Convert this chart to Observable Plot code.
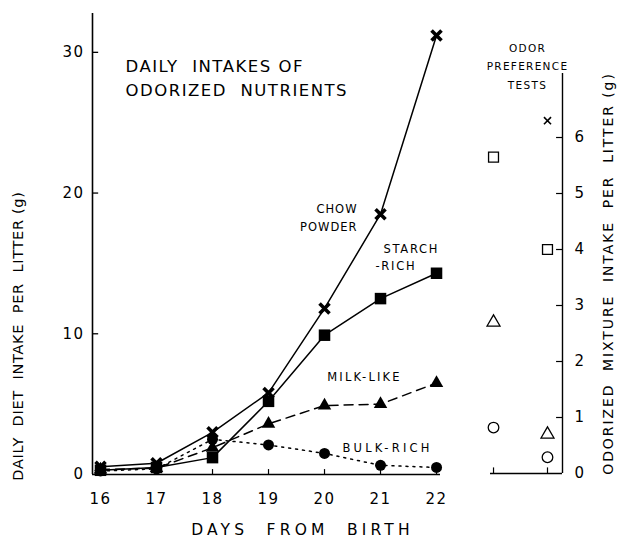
<!DOCTYPE html>
<html><head><meta charset="utf-8">
<script src="https://cdn.jsdelivr.net/npm/d3@7"></script>
<script src="https://cdn.jsdelivr.net/npm/@observablehq/plot@0.6"></script>
<style>
html,body{margin:0;padding:0;background:#fff;}
#chart{position:relative;width:628px;height:538px;background:#fff;}
#chart svg{position:absolute;left:0;top:0;}
</style></head><body><div id="chart"></div>
<script>
// ---- data ----
const days = [16, 17, 18, 19, 20, 21, 22];
const chowPowder = [0.55, 0.8, 3.0, 5.8, 11.8, 18.5, 31.2];
const starchRich = [0.3, 0.5, 1.2, 5.2, 9.9, 12.5, 14.3];
const milkLike   = [0.35, 0.45, 1.9, 3.6, 4.9, 5.0, 6.5];
const bulkRich   = [0.25, 0.4, 2.5, 2.1, 1.5, 0.65, 0.5];
const xTicks = [16, 17, 18, 19, 20, 21, 22];
const yTicks = [0, 10, 20, 30];

const testColumns = [1, 2];
const testNutrients = ["CHOW POWDER", "STARCH-RICH", "MILK-LIKE", "BULK-RICH"];
const test1Values = [null, 5.65, 2.7, 0.82];
const test2Values = [6.3, 4.0, 0.7, 0.29];
const rightTicks = [0, 1, 2, 3, 4, 5, 6];

// ---- tables ----
const seriesTable = [
  {name: "CHOW POWDER", values: chowPowder},
  {name: "STARCH-RICH", values: starchRich},
  {name: "MILK-LIKE", values: milkLike},
  {name: "BULK-RICH", values: bulkRich}
];
const rows = seriesTable.flatMap(s => days.map((d, i) => ({series: s.name, day: d, value: s.values[i]})));
const of = name => rows.filter(r => r.series === name);
const at = (name, day) => of(name).filter(d => d.day === day);
const testRows = [];
[test1Values, test2Values].forEach((vals, j) => vals.forEach((v, i) => {
  if (v != null) testRows.push({test: testColumns[j], nutrient: testNutrients[i], value: v});
}));
const tof = name => testRows.filter(r => r.nutrient === name);

const FONT = "DejaVu Sans";
const X0 = 15.857, X1 = 22.071, Y1 = 32.76;

const main = Plot.plot({
  width: 628, height: 538,
  marginLeft: 92, marginRight: 188, marginTop: 13, marginBottom: 64,
  x: {domain: [X0, X1], axis: null},
  y: {domain: [0, Y1], axis: null},
  style: {fontFamily: FONT, fontSize: "15px", color: "#000", background: "transparent", overflow: "visible"},
  marks: [
    Plot.ruleX([X0], {strokeWidth: 1.6}),
    Plot.ruleY([0], {strokeWidth: 1.6}),
    Plot.ruleY(yTicks.filter(d => d > 0), {x1: X0, x2: X0 + 0.11, strokeWidth: 1.3}),
    Plot.ruleX(xTicks.slice(1), {y1: 0, y2: 0.35, strokeWidth: 1.2}),
    Plot.axisY({ticks: yTicks, tickSize: 0, tickPadding: 8, label: null, fontSize: 15}),
    Plot.axisX({ticks: xTicks, tickSize: 0, tickPadding: 19, label: null, fontSize: 15, tickFormat: d => String(d)}),
    Plot.line(of("CHOW POWDER"), {x: "day", y: "value", strokeWidth: 1.5}),
    Plot.line(of("STARCH-RICH"), {x: "day", y: "value", strokeWidth: 1.5}),
    Plot.line(of("MILK-LIKE"), {x: "day", y: "value", strokeWidth: 1.5, strokeDasharray: "9,6"}),
    Plot.line(of("BULK-RICH"), {x: "day", y: "value", strokeWidth: 1.5, strokeDasharray: "2,5"}),
    Plot.dot(of("BULK-RICH"), {x: "day", y: "value", symbol: "circle", r: 5.5, fill: "#000", stroke: "none"}),
    Plot.dot(of("MILK-LIKE"), {x: "day", y: "value", symbol: "triangle", r: 5, fill: "#000", stroke: "none"}),
    Plot.dot(of("STARCH-RICH"), {x: "day", y: "value", symbol: "square", r: 6.5, fill: "#000", stroke: "none"}),
    Plot.dot(of("CHOW POWDER"), {x: "day", y: "value", symbol: "times", r: 4.6, stroke: "#000", strokeWidth: 3.6}),
    // series labels, anchored to data points
    Plot.text(at("CHOW POWDER", 21), {x: "day", y: "value", text: () => "CHOW\nPOWDER", textAnchor: "end", lineHeight: 1.6, dx: -23, dy: 2, fontSize: 11.5}),
    Plot.text(at("STARCH-RICH", 22), {x: "day", y: "value", text: () => "STARCH", textAnchor: "start", dx: -53, dy: -24, fontSize: 11.5}),
    Plot.text(at("STARCH-RICH", 22), {x: "day", y: "value", text: () => "-RICH", textAnchor: "start", dx: -61, dy: -7, fontSize: 11.5}),
    Plot.text(at("MILK-LIKE", 22), {x: "day", y: "value", text: () => "MILK-LIKE", textAnchor: "middle", dx: -72, dy: -5.5, fontSize: 11.5}),
    Plot.text(at("BULK-RICH", 22), {x: "day", y: "value", text: () => "BULK-RICH", textAnchor: "middle", dx: -49, dy: -19, fontSize: 11.5}),
    // titles
    Plot.text(["DAILY  INTAKES OF\nODORIZED  NUTRIENTS"], {frameAnchor: "top-left", textAnchor: "start", lineAnchor: "middle", lineHeight: 1.5, dx: 33, dy: 62.5, fontSize: 16.5}),
    Plot.text(["DAILY  DIET  INTAKE  PER  LITTER (g)"], {frameAnchor: "left", rotate: -90, textAnchor: "middle", lineAnchor: "middle", dx: -74, dy: 92, fontSize: 14.5}),
    Plot.text(["DAYS  FROM  BIRTH"], {frameAnchor: "bottom", textAnchor: "middle", lineAnchor: "middle", dx: 36, dy: 56, fontSize: 15.5})
  ]
});

const RX0 = 0.944, RX1 = 2.278, RY1 = 7.143;
const right = Plot.plot({
  width: 628, height: 538,
  marginLeft: 490, marginRight: 66, marginTop: 73, marginBottom: 65,
  x: {domain: [RX0, RX1], axis: null},
  y: {domain: [0, RY1], axis: null},
  style: {fontFamily: FONT, fontSize: "15px", color: "#000", background: "transparent", overflow: "visible"},
  marks: [
    Plot.ruleX([RX1], {strokeWidth: 1.4}),
    Plot.ruleY([0], {strokeWidth: 1.4}),
    Plot.ruleY(rightTicks.filter(d => d > 0), {x1: RX1 - 0.11, x2: RX1, strokeWidth: 1.2}),
    Plot.ruleX(testColumns, {y1: 0, y2: 0.1, strokeWidth: 1.2}),
    Plot.axisY({anchor: "right", ticks: rightTicks, tickSize: 0, tickPadding: 12, label: null, fontSize: 15}),
    Plot.dot(tof("STARCH-RICH"), {x: "test", y: "value", symbol: "square", r: 5.6, fill: "#fff", stroke: "#000", strokeWidth: 1.3}),
    Plot.dot(tof("MILK-LIKE"), {x: "test", y: "value", symbol: "triangle", r: 4.8, fill: "#fff", stroke: "#000", strokeWidth: 1.3}),
    Plot.dot(tof("BULK-RICH"), {x: "test", y: "value", symbol: "circle", r: 5.3, fill: "#fff", stroke: "#000", strokeWidth: 1.3}),
    Plot.dot(tof("CHOW POWDER"), {x: "test", y: "value", symbol: "times", r: 3.3, stroke: "#000", strokeWidth: 1.6}),
    Plot.text(["ODOR\nPREFERENCE\nTESTS"], {frameAnchor: "top-left", textAnchor: "middle", lineAnchor: "middle", lineHeight: 1.75, dx: 37, dy: -9, fontSize: 10.5}),
    Plot.text(["ODORIZED  MIXTURE  INTAKE  PER  LITTER (g)"], {frameAnchor: "right", rotate: -90, textAnchor: "middle", lineAnchor: "middle", dx: 46, dy: 0, fontSize: 14})
  ]
});

const chart = document.getElementById("chart");
chart.appendChild(main);
chart.appendChild(right);

// letter spacing of the stencil-like lettering (style only)
const spacingRules = [
  ["CHOW", 1], ["STARCH", 1.7], ["-RICH", 1.7], ["MILK-LIKE", 2.2], ["BULK-RICH", 3.2],
  ["DAILY  INTAKES", 1.5], ["DAILY  DIET", 0.7], ["DAYS", 4.2],
  ["ODORPREF", 1.3], ["ODORIZED  MIXTURE", 1.9]
];
for (const svg of [main, right]) {
  d3.select(svg).selectAll("text").each(function () {
    const t = this.textContent;
    if (/^\d+$/.test(t)) { this.setAttribute("letter-spacing", 1.5); return; }
    for (const [k, v] of spacingRules) if (t.startsWith(k)) { this.setAttribute("letter-spacing", v); break; }
  });
}
</script></body></html>
